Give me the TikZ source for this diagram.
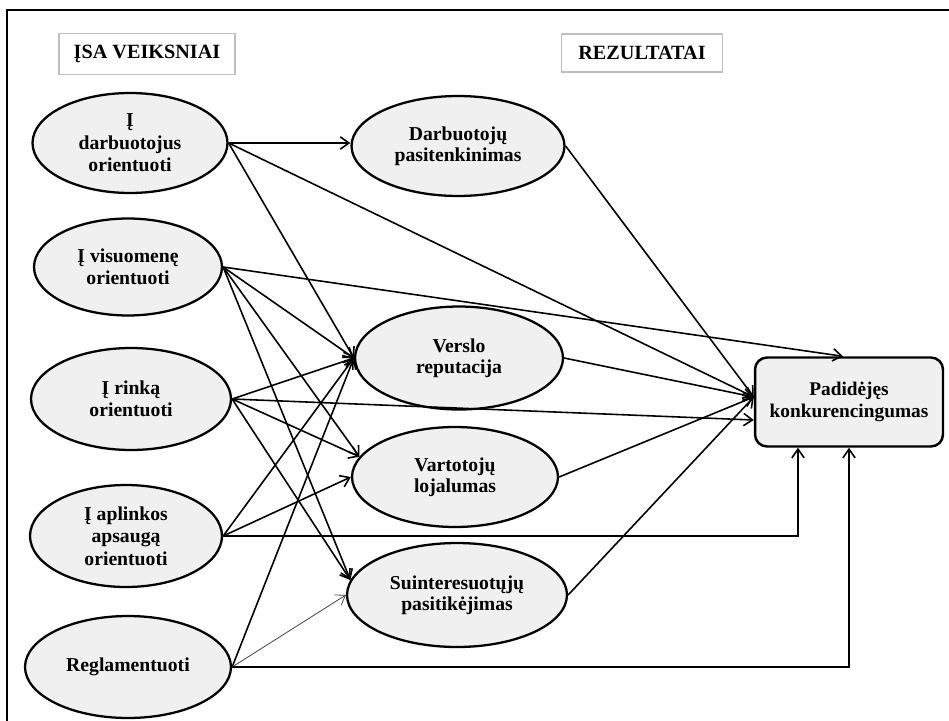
\documentclass[tikz,border=0pt]{standalone}
\usepackage{fontspec}
\setmainfont{Liberation Serif}
\usetikzlibrary{arrows.meta,shapes.geometric,positioning,calc}

\definecolor{pilka}{HTML}{F0F0F0}

\begin{document}
\begin{tikzpicture}[x=0.02cm, y=-0.02cm, >={Straight Barb[length=5pt,width=7pt]},
	antraste/.style={draw=black!25, line width=0.6pt, inner sep=0pt, font=\fontsize{11.5}{13}\selectfont\bfseries},
	veiksnys/.style={draw, ellipse, fill=pilka, line width=1.3pt, align=center, inner sep=0pt, font=\fontsize{11.2}{12.8}\selectfont\bfseries},
	rezultatas/.style={veiksnys, font=\fontsize{11.2}{12.2}\selectfont\bfseries},
	rysys/.style={->, line width=0.9pt},
	silpnas/.style={->, line width=0.45pt, draw=black!75}]
			\clip (0,0) rectangle (949,720);
			\draw[line width=1.3pt] (7,730) -- (7,10) -- (960,10);
			
			% antrastes
			\node[antraste, minimum width=3.52cm, minimum height=0.82cm] (isa) at (147,54) {ĮSA VEIKSNIAI};
			\node[antraste, minimum width=3.22cm, minimum height=0.76cm] (rez) at (642,53) {REZULTATAI};
			
			% veiksniai
			\node[veiksnys, minimum width=3.9cm, minimum height=2cm] (darb) at (130,143) {Į\\darbuotojus\\orientuoti};
			\node[veiksnys, minimum width=3.76cm, minimum height=1.94cm] (visu) at (128,267) {Į visuomenę\\orientuoti};
			\node[veiksnys, minimum width=4cm, minimum height=2.04cm] (rink) at (131,399) {Į rinką\\orientuoti};
			\node[veiksnys, minimum width=3.84cm, minimum height=2.04cm] (aplink) at (126,536) {Į aplinkos\\apsaugą\\orientuoti};
			\node[veiksnys, minimum width=4.12cm, minimum height=2.04cm] (regl) at (128,667) {Reglamentuoti};
			
			% rezultatai
			\node[rezultatas, minimum width=4.26cm, minimum height=2cm] (pasit) at (458,146) {Darbuotojų\\pasitenkinimas};
			\node[rezultatas, minimum width=4.16cm, minimum height=2.06cm] (rep) at (459,358) {Verslo\\reputacija};
			\node[rezultatas, minimum width=4.12cm, minimum height=2cm] (loj) at (455,477) {Vartotojų\\lojalumas};
			\node[rezultatas, minimum width=4.4cm, minimum height=2.08cm] (pasitik) at (457,595) {Suinteresuotųjų\\pasitikėjimas};
			\node[draw, fill=pilka, rounded corners=0.24cm, line width=1.4pt, align=center, inner sep=0pt,
				minimum width=3.76cm, minimum height=1.78cm, font=\fontsize{11}{12.2}\selectfont\bfseries] (konk) at (849,402) {Padidėjęs\\konkurencingumas};
			
			\coordinate (k1) at ($(konk.west)+(0,-5)$);
			\coordinate (k2) at ($(konk.west)+(0,18)$);
			\coordinate (k3) at ($(konk.north)+(-6,0)$);
			\coordinate (k4) at ($(konk.south)+(-51,0)$);
			
			\draw[rysys] (darb.east) -- (darb.east -| pasit.west);
			\draw[rysys] (darb.east) -- (rep.west);
			\draw[rysys] (darb.east) -- (k1);
			
			\draw[rysys] (visu.east) -- (k3);
			\foreach \j in {rep.west, loj.168, pasitik.172}
				\draw[rysys] (visu.east) -- (\j);
			
			\draw[rysys] (rink.east) -- (k2);
			\foreach \j in {rep.west, loj.168, pasitik.172}
				\draw[rysys] (rink.east) -- (\j);
			
			\draw[rysys] (aplink.east) -- (rep.west);
			\draw[rysys] (aplink.east) -- (loj.west);
			\draw[rysys] (aplink.east) -| (k4);
			
			\draw[rysys] (regl.east) -- (rep.west);
			\draw[silpnas] (regl.east) -- (pasitik.west);
			\draw[rysys] (regl.east) -| (konk.south);
			
			\foreach \i in {pasit, rep, loj, pasitik}
				\draw[rysys] (\i.east) -- (k1);
			
		\end{tikzpicture}
\end{document}
